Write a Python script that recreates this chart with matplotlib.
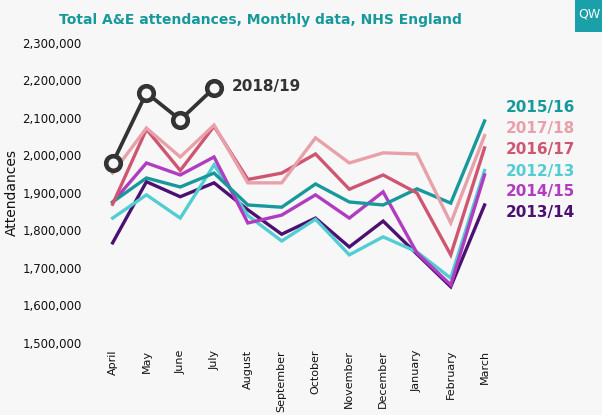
import matplotlib
matplotlib.use('Agg')
import matplotlib.pyplot as plt
from matplotlib.ticker import FuncFormatter

months = ["April", "May", "June", "July", "August", "September", "October",
          "November", "December", "January", "February", "March"]

# Monthly A&E attendances by financial year
y2012_13 = [1833000, 1895000, 1833000, 1975000, 1840000, 1772000, 1830000,
            1735000, 1783000, 1743000, 1673000, 1960000]
y2013_14 = [1767000, 1930000, 1890000, 1927000, 1855000, 1790000, 1833000,
            1756000, 1825000, 1737000, 1650000, 1868000]
y2014_15 = [1875000, 1980000, 1948000, 1996000, 1820000, 1841000, 1895000,
            1833000, 1903000, 1740000, 1655000, 1948000]
y2015_16 = [1876000, 1940000, 1916000, 1953000, 1868000, 1862000, 1924000,
            1876000, 1868000, 1911000, 1873000, 2092000]
y2016_17 = [1870000, 2070000, 1960000, 2078000, 1936000, 1953000, 2004000,
            1910000, 1948000, 1900000, 1735000, 2020000]
y2017_18 = [1953000, 2073000, 1996000, 2081000, 1927000, 1927000, 2047000,
            1980000, 2007000, 2004000, 1820000, 2053000]
y2018_19 = [1980000, 2167000, 2095000, 2180000]

series = [
    ("2013/14", y2013_14, "#4b1070"),
    ("2012/13", y2012_13, "#52cdd3"),
    ("2014/15", y2014_15, "#b03cc0"),
    ("2015/16", y2015_16, "#17999c"),
    ("2016/17", y2016_17, "#cf5670"),
    ("2017/18", y2017_18, "#e8a0aa"),
]
# vertical position of the right-hand year labels
label_y = {"2015/16": 2129000, "2017/18": 2073000, "2016/17": 2015000,
           "2012/13": 1956000, "2014/15": 1903000, "2013/14": 1849000}

bg = "#f7f7f7"
teal = "#17999c"

fig = plt.figure(figsize=(6.02, 4.15), dpi=100, facecolor=bg)
ax = fig.add_axes([0.159, 0.1735, 0.674, 0.723], facecolor=bg)

x = list(range(len(months)))
for name, vals, col in series:
    ax.plot(x, vals, color=col, lw=2.4, solid_joinstyle='miter')
    ax.text(11.63, label_y[name], name, color=col, fontsize=11,
            fontweight='bold', va='center', ha='left', clip_on=False)

ax.plot(x[:len(y2018_19)], y2018_19, color="#333333", lw=2.7, marker='o',
        markersize=10.5, markerfacecolor=bg, markeredgecolor="#333333",
        markeredgewidth=3.3, zorder=5)
ax.text(3.52, 2183000, "2018/19", color="#333333", fontsize=11,
        fontweight='bold', va='center', ha='left')

ax.set_xlim(-0.5, 11.5)
ax.set_ylim(1500000, 2300000)
ax.set_yticks(range(1500000, 2300001, 100000))
ax.yaxis.set_major_formatter(FuncFormatter(lambda v, p: f"{int(v):,}"))
ax.set_xticks(x)
ax.set_xticklabels(months, rotation=90, va='top', ha='center')
ax.tick_params(axis='y', length=0, pad=10, labelsize=8.5, labelcolor="#111111")
ax.tick_params(axis='x', length=0, pad=5, labelsize=8, labelcolor="#111111")
for s in ax.spines.values():
    s.set_visible(False)

ax.set_ylabel("Attendances", fontsize=10, color="#111111")
ax.yaxis.set_label_coords(-0.19, 0.5)

fig.text(0.432, 0.952, "Total A&E attendances, Monthly data, NHS England",
         color=teal, fontsize=10, fontweight='bold', ha='center', va='center')

# QW badge
badge = fig.add_axes([575 / 602, 1 - 32 / 415, 27 / 602, 32 / 415])
badge.set_facecolor("#1aa0a8")
badge.set_xticks([])
badge.set_yticks([])
for s in badge.spines.values():
    s.set_visible(False)
badge.text(0.55, 0.55, "QW", color="white", fontsize=9, ha='center',
           va='center', transform=badge.transAxes)

fig.savefig("out.png", dpi=100, facecolor=bg)
